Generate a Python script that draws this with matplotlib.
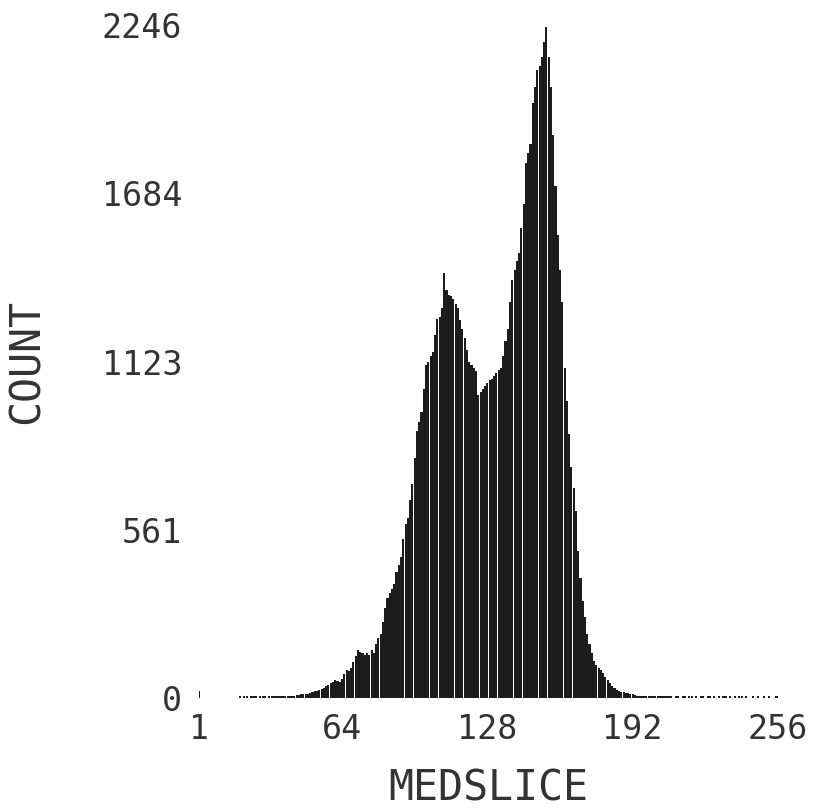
import matplotlib
matplotlib.use("Agg")
import matplotlib.pyplot as plt
import numpy as np

# ---- data ----
bins = list(range(1, 257))

counts_001_040 = [25, 0, 0, 0, 0, 0, 0, 0, 0, 0, 0, 0, 0, 0, 0, 0,
                  0, 0, 6, 0, 6, 6, 0, 6, 6, 6, 0, 6, 6, 6, 0, 6,
                  6, 6, 6, 6, 7, 7, 6, 7]
counts_041_080 = [7, 8, 8, 9, 10, 12, 12, 14,
                  15, 18, 20, 22, 25, 28, 30, 35,
                  40, 45, 50, 55, 60, 58, 55, 65,
                  80, 95, 90, 100, 120, 140, 160, 155,
                  150, 145, 150, 145, 160, 150, 180, 200]
counts_081_120 = [215, 255, 300, 335, 350, 365, 380, 420, 445, 470,
                  530, 580, 600, 660, 715, 800, 890, 920, 955, 1030,
                  1110, 1120, 1140, 1155, 1210, 1265, 1270, 1300, 1420, 1360,
                  1345, 1340, 1330, 1315, 1300, 1260, 1230, 1200, 1160, 1120]
counts_121_160 = [1110, 1100, 1090, 1010, 1020, 1030, 1040, 1050, 1060, 1065,
                  1075, 1085, 1095, 1100, 1140, 1190, 1230, 1320, 1395, 1430,
                  1460, 1485, 1570, 1650, 1785, 1820, 1850, 1985, 2040, 2095,
                  2110, 2140, 2190, 2240, 2140, 2040, 1880, 1710, 1545, 1430]
counts_161_208 = [1320, 1100, 990, 880, 770, 700, 625, 490, 400, 325,
                  270, 215, 180, 150, 125, 110, 100, 92, 85, 70,
                  60, 50, 40, 32, 27, 24, 21, 19, 18, 17,
                  14, 12, 10, 8, 8, 8, 7, 7, 7, 7,
                  6, 6, 6, 6, 6, 6, 6, 6]
counts_209_256 = [6, 0, 6, 6, 0, 6, 6, 0, 6, 6, 0, 6, 0, 6, 6, 0,
                  6, 6, 0, 6, 0, 6, 0, 6, 6, 0, 6, 0, 6, 0, 6, 6,
                  0, 6, 0, 0, 6, 0, 6, 0, 0, 6, 0, 6, 0, 0, 6, 7]

counts = (counts_001_040 + counts_041_080 + counts_081_120 +
          counts_121_160 + counts_161_208 + counts_209_256)

x_ticks = [1, 64, 128, 192, 256]
y_ticks = [0, 561, 1123, 1684, 2246]
x_label = "MEDSLICE"
y_label = "COUNT"

# ---- figure ----
W, H = 815, 809
fig = plt.figure(figsize=(W / 100, H / 100), dpi=100)
ax = fig.add_axes([199 / W, (H - 698) / H, 579 / W, 673 / H])

ax.bar(bins, counts, width=0.92, color="#1c1c1c", linewidth=0,
       antialiased=False, align="center")

ax.set_xlim(1, 256)
ax.set_ylim(0, 2246)
ax.set_xticks(x_ticks)
ax.set_yticks(y_ticks)
ax.set_xticklabels([str(v) for v in x_ticks])
ax.set_yticklabels([str(v) for v in y_ticks])

for s in ax.spines.values():
    s.set_visible(False)

font = "DejaVu Sans Mono"
txt_color = "#333333"
ax.tick_params(axis="both", length=0, labelsize=24, labelcolor=txt_color)
ax.tick_params(axis="x", pad=11)
ax.tick_params(axis="y", pad=12)
for lab in ax.get_xticklabels() + ax.get_yticklabels():
    lab.set_fontfamily(font)

ax.set_xlabel(x_label, fontsize=30, fontfamily=font, color=txt_color)
ax.set_ylabel(y_label, fontsize=30, fontfamily=font, color=txt_color)
ax.xaxis.set_label_coords(0.5, -0.103)
ax.yaxis.set_label_coords(-0.262, 0.5)

fig.savefig("out.png", dpi=100, facecolor="white")
